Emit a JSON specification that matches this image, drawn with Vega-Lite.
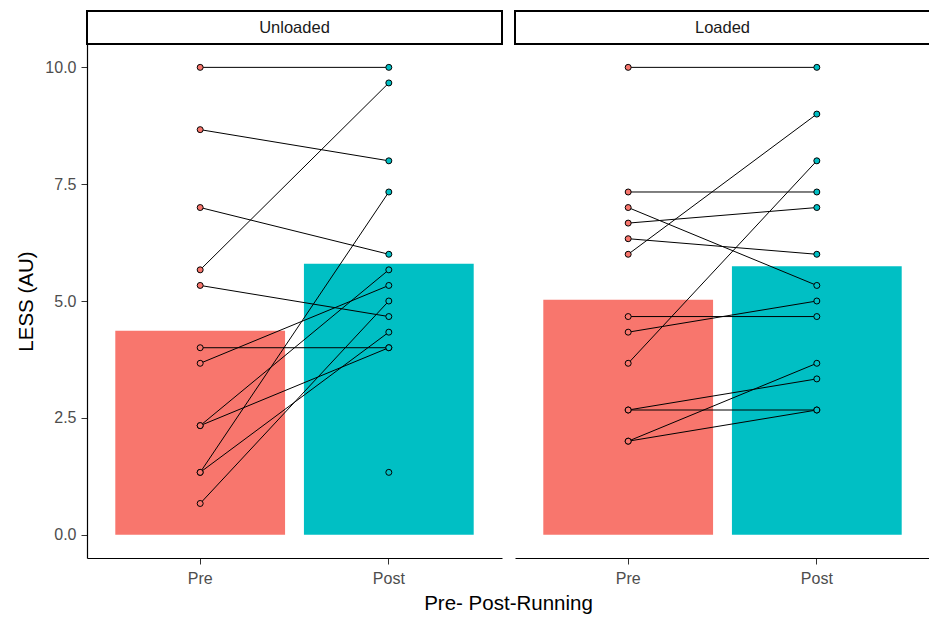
{
  "$schema": "https://vega.github.io/schema/vega-lite/v6.json",
  "padding": {"left": 16, "top": 10, "right": 0, "bottom": 5},
  "background": "white",
  "bounds": "flush",
  "columns": 2,
  "spacing": {"row": 0, "column": 13},
  "config": {
    "font": "Liberation Sans",
    "view": {"stroke": null},
    "axis": {"grid": false}
  },
  "datasets": {
    "less": [
      {"cond": "Unloaded", "subj": "U1", "time": "Pre", "less": 10},
      {"cond": "Unloaded", "subj": "U1", "time": "Post", "less": 10},
      {"cond": "Unloaded", "subj": "U2", "time": "Pre", "less": 8.667},
      {"cond": "Unloaded", "subj": "U2", "time": "Post", "less": 8},
      {"cond": "Unloaded", "subj": "U3", "time": "Pre", "less": 7},
      {"cond": "Unloaded", "subj": "U3", "time": "Post", "less": 6},
      {"cond": "Unloaded", "subj": "U4", "time": "Pre", "less": 5.667},
      {"cond": "Unloaded", "subj": "U4", "time": "Post", "less": 9.667},
      {"cond": "Unloaded", "subj": "U5", "time": "Pre", "less": 5.333},
      {"cond": "Unloaded", "subj": "U5", "time": "Post", "less": 4.667},
      {"cond": "Unloaded", "subj": "U6", "time": "Pre", "less": 4},
      {"cond": "Unloaded", "subj": "U6", "time": "Post", "less": 4},
      {"cond": "Unloaded", "subj": "U7", "time": "Pre", "less": 3.667},
      {"cond": "Unloaded", "subj": "U7", "time": "Post", "less": 5.333},
      {"cond": "Unloaded", "subj": "U8", "time": "Pre", "less": 2.333},
      {"cond": "Unloaded", "subj": "U8", "time": "Post", "less": 5.667},
      {"cond": "Unloaded", "subj": "U9", "time": "Pre", "less": 2.333},
      {"cond": "Unloaded", "subj": "U9", "time": "Post", "less": 4},
      {"cond": "Unloaded", "subj": "U10", "time": "Pre", "less": 1.333},
      {"cond": "Unloaded", "subj": "U10", "time": "Post", "less": 7.333},
      {"cond": "Unloaded", "subj": "U11", "time": "Pre", "less": 1.333},
      {"cond": "Unloaded", "subj": "U11", "time": "Post", "less": 4.333},
      {"cond": "Unloaded", "subj": "U12", "time": "Pre", "less": 0.667},
      {"cond": "Unloaded", "subj": "U12", "time": "Post", "less": 5},
      {"cond": "Unloaded", "subj": "U13", "time": "Post", "less": 1.333},
      {"cond": "Loaded", "subj": "L1", "time": "Pre", "less": 10},
      {"cond": "Loaded", "subj": "L1", "time": "Post", "less": 10},
      {"cond": "Loaded", "subj": "L2", "time": "Pre", "less": 7.333},
      {"cond": "Loaded", "subj": "L2", "time": "Post", "less": 7.333},
      {"cond": "Loaded", "subj": "L3", "time": "Pre", "less": 7},
      {"cond": "Loaded", "subj": "L3", "time": "Post", "less": 5.333},
      {"cond": "Loaded", "subj": "L4", "time": "Pre", "less": 6.667},
      {"cond": "Loaded", "subj": "L4", "time": "Post", "less": 7},
      {"cond": "Loaded", "subj": "L5", "time": "Pre", "less": 6.333},
      {"cond": "Loaded", "subj": "L5", "time": "Post", "less": 6},
      {"cond": "Loaded", "subj": "L6", "time": "Pre", "less": 6},
      {"cond": "Loaded", "subj": "L6", "time": "Post", "less": 9},
      {"cond": "Loaded", "subj": "L7", "time": "Pre", "less": 4.667},
      {"cond": "Loaded", "subj": "L7", "time": "Post", "less": 4.667},
      {"cond": "Loaded", "subj": "L8", "time": "Pre", "less": 4.333},
      {"cond": "Loaded", "subj": "L8", "time": "Post", "less": 5},
      {"cond": "Loaded", "subj": "L9", "time": "Pre", "less": 3.667},
      {"cond": "Loaded", "subj": "L9", "time": "Post", "less": 8},
      {"cond": "Loaded", "subj": "L10", "time": "Pre", "less": 2.667},
      {"cond": "Loaded", "subj": "L10", "time": "Post", "less": 3.333},
      {"cond": "Loaded", "subj": "L11", "time": "Pre", "less": 2.667},
      {"cond": "Loaded", "subj": "L11", "time": "Post", "less": 2.667},
      {"cond": "Loaded", "subj": "L12", "time": "Pre", "less": 2},
      {"cond": "Loaded", "subj": "L12", "time": "Post", "less": 3.667},
      {"cond": "Loaded", "subj": "L13", "time": "Pre", "less": 2},
      {"cond": "Loaded", "subj": "L13", "time": "Post", "less": 2.667}
    ],
    "strips": [{"cond": "Unloaded"}, {"cond": "Loaded"}]
  },
  "concat": [
    {
      "data": {"name": "strips"},
      "transform": [{"filter": "datum.cond === 'Unloaded'"}],
      "width": 415,
      "height": 33,
      "view": {"stroke": "black", "strokeWidth": 2, "fill": "white"},
      "mark": {"type": "text", "fontSize": 16.5, "color": "#1A1A1A", "baseline": "middle", "align": "center"},
      "encoding": {"text": {"field": "cond", "type": "nominal"}}
    },
    {
      "data": {"name": "strips"},
      "transform": [{"filter": "datum.cond === 'Loaded'"}],
      "width": 415,
      "height": 33,
      "view": {"stroke": "black", "strokeWidth": 2, "fill": "white"},
      "mark": {"type": "text", "fontSize": 16.5, "color": "#1A1A1A", "baseline": "middle", "align": "center"},
      "encoding": {"text": {"field": "cond", "type": "nominal"}}
    },
    {
      "data": {"name": "less"},
      "transform": [{"filter": "datum.cond === 'Unloaded'"}],
      "width": 415,
      "height": 514,
      "encoding": {
        "x": {
          "field": "time", "type": "nominal", "sort": ["Pre", "Post"],
          "scale": {"domain": ["Pre", "Post"], "paddingInner": 0.1, "paddingOuter": 0.15},
          "axis": {
            "title": "Pre- Post-Running", "titleX": 421, "titleFontSize": 20.5, "titleFontWeight": "normal",
            "titleColor": "black", "titlePadding": 7, "labelAngle": 0, "labelFontSize": 16,
            "labelColor": "#4D4D4D", "labelPadding": 6, "tickSize": 6, "tickColor": "#333333",
            "domainColor": "black", "domainWidth": 1.2
          }
        }
      },
      "layer": [
        {
          "mark": {"type": "bar"},
          "encoding": {
            "y": {
              "aggregate": "mean", "field": "less", "type": "quantitative",
              "scale": {"domain": [-0.5, 10.5], "nice": false, "zero": false},
              "axis": {
                "title": "LESS (AU)", "values": [0, 2.5, 5, 7.5, 10], "format": ".1f",
                "titleFontSize": 20.5, "titleFontWeight": "normal", "titleColor": "black", "titlePadding": 8,
                "labelFontSize": 16, "labelColor": "#4D4D4D", "labelPadding": 5, "tickSize": 6,
                "tickColor": "#333333", "domainColor": "black", "domainWidth": 1.2
              }
            },
            "color": {"field": "time", "type": "nominal", "scale": {"domain": ["Pre", "Post"], "range": ["#F8766D", "#00BFC4"]}, "legend": null}
          }
        },
        {
          "mark": {"type": "line", "color": "black", "strokeWidth": 1},
          "encoding": {
            "y": {"field": "less", "type": "quantitative"},
            "detail": {"field": "subj", "type": "nominal"}
          }
        },
        {
          "mark": {"type": "point", "filled": true, "size": 36, "stroke": "black", "strokeWidth": 1, "opacity": 1},
          "encoding": {
            "y": {"field": "less", "type": "quantitative"},
            "fill": {"field": "time", "type": "nominal", "scale": {"domain": ["Pre", "Post"], "range": ["#F8766D", "#00BFC4"]}, "legend": null}
          }
        }
      ]
    },
    {
      "data": {"name": "less"},
      "transform": [{"filter": "datum.cond === 'Loaded'"}],
      "width": 415,
      "height": 514,
      "encoding": {
        "x": {
          "field": "time", "type": "nominal", "sort": ["Pre", "Post"],
          "scale": {"domain": ["Pre", "Post"], "paddingInner": 0.1, "paddingOuter": 0.15},
          "axis": {
            "title": null, "labelAngle": 0, "labelFontSize": 16,
            "labelColor": "#4D4D4D", "labelPadding": 6, "tickSize": 6, "tickColor": "#333333",
            "domainColor": "black", "domainWidth": 1.2
          }
        }
      },
      "layer": [
        {
          "mark": {"type": "bar"},
          "encoding": {
            "y": {
              "aggregate": "mean", "field": "less", "type": "quantitative",
              "scale": {"domain": [-0.5, 10.5], "nice": false, "zero": false},
              "axis": null
            },
            "color": {"field": "time", "type": "nominal", "scale": {"domain": ["Pre", "Post"], "range": ["#F8766D", "#00BFC4"]}, "legend": null}
          }
        },
        {
          "mark": {"type": "line", "color": "black", "strokeWidth": 1},
          "encoding": {
            "y": {"field": "less", "type": "quantitative"},
            "detail": {"field": "subj", "type": "nominal"}
          }
        },
        {
          "mark": {"type": "point", "filled": true, "size": 36, "stroke": "black", "strokeWidth": 1, "opacity": 1},
          "encoding": {
            "y": {"field": "less", "type": "quantitative"},
            "fill": {"field": "time", "type": "nominal", "scale": {"domain": ["Pre", "Post"], "range": ["#F8766D", "#00BFC4"]}, "legend": null}
          }
        }
      ]
    }
  ]
}
